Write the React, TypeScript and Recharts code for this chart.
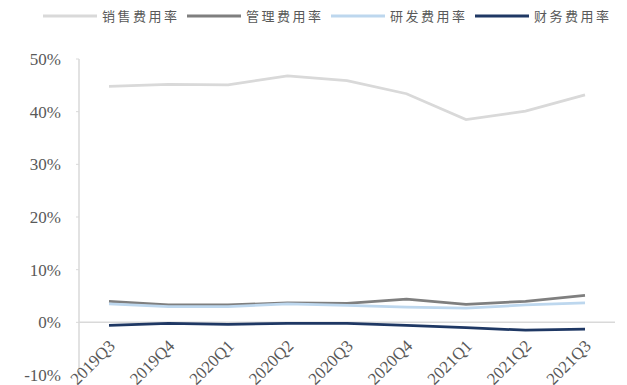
import React from 'react';
import { Legend, Line, LineChart, ReferenceLine, XAxis, YAxis } from 'recharts';

const quarters = ['2019Q3', '2019Q4', '2020Q1', '2020Q2', '2020Q3', '2020Q4', '2021Q1', '2021Q2', '2021Q3'];
const salesRate = [44.8, 45.2, 45.1, 46.8, 45.9, 43.4, 38.5, 40.1, 43.2];
const adminRate = [4.0, 3.3, 3.3, 3.7, 3.6, 4.4, 3.4, 4.0, 5.1];
const rdRate = [3.5, 3.0, 3.0, 3.5, 3.2, 2.9, 2.7, 3.3, 3.7];
const financeRate = [-0.6, -0.2, -0.4, -0.2, -0.2, -0.6, -1.0, -1.5, -1.3];
const yTicks = [-10, 0, 10, 20, 30, 40, 50];

const series = [
  { key: 'sales', name: '销售费用率', color: '#d9d9d9' },
  { key: 'admin', name: '管理费用率', color: '#7f7f7f' },
  { key: 'rd', name: '研发费用率', color: '#bdd7ee' },
  { key: 'finance', name: '财务费用率', color: '#1f3864' },
];

const data = quarters.map((q, i) => ({
  q,
  sales: salesRate[i],
  admin: adminRate[i],
  rd: rdRate[i],
  finance: financeRate[i],
}));

const serif = '"Times New Roman", "Liberation Serif", serif';

function LegendContent() {
  return (
    <div style={{ display: 'flex', alignItems: 'center', paddingLeft: 43 }}>
      {series.map((s, i) => (
        <div key={s.key} style={{ display: 'flex', alignItems: 'center', marginLeft: i ? 10 : 0 }}>
          <svg width={54} height={6} style={{ marginRight: 5 }}>
            <line x1={0} y1={3} x2={54} y2={3} stroke={s.color} strokeWidth={3} />
          </svg>
          <span
            style={{
              fontFamily: '"Noto Sans CJK SC", sans-serif',
              fontSize: 13,
              letterSpacing: 2.5,
              color: '#595959',
              width: 75,
              whiteSpace: 'nowrap',
            }}
          >
            {s.name}
          </span>
        </div>
      ))}
    </div>
  );
}

function QuarterTick(props: any) {
  const { x, y, payload } = props;
  // category labels hang from the 0% line, not from the plot bottom
  const tx = x + 7;
  const ty = y - 36;
  return (
    <text
      x={tx}
      y={ty}
      transform={`rotate(-45 ${tx} ${ty})`}
      textAnchor="end"
      fontFamily={serif}
      fontSize={17}
      fill="#595959"
    >
      {payload.value}
    </text>
  );
}

export default function App() {
  return (
    <div style={{ position: 'absolute', left: 0, top: 0, background: '#fff' }}>
      <LineChart width={627} height={385} data={data} margin={{ top: 59, right: 12, left: 0, bottom: 0 }}>
        <Legend
          verticalAlign="middle"
          layout="horizontal"
          wrapperStyle={{ top: 6, left: 0, width: 627 }}
          content={<LegendContent />}
        />
        <XAxis
          dataKey="q"
          height={10}
          axisLine={false}
          tickLine={false}
          interval={0}
          padding={{ left: 30, right: 30 }}
          tick={<QuarterTick />}
        />
        <YAxis
          width={79}
          domain={[-10, 50]}
          ticks={yTicks}
          interval={0}
          tickFormatter={(v) => `${v}%`}
          axisLine={{ stroke: '#d9d9d9', strokeWidth: 1.5 }}
          tickLine={{ stroke: '#d9d9d9' }}
          tickSize={3}
          tickMargin={15}
          tick={{ fontFamily: serif, fontSize: 17, fill: '#595959' }}
        />
        <ReferenceLine y={0} stroke="#d9d9d9" strokeWidth={1.5} />
        {series.map((s) => (
          <Line
            key={s.key}
            dataKey={s.key}
            name={s.name}
            stroke={s.color}
            strokeWidth={2.75}
            dot={false}
            type="linear"
            isAnimationActive={false}
          />
        ))}
      </LineChart>
    </div>
  );
}
